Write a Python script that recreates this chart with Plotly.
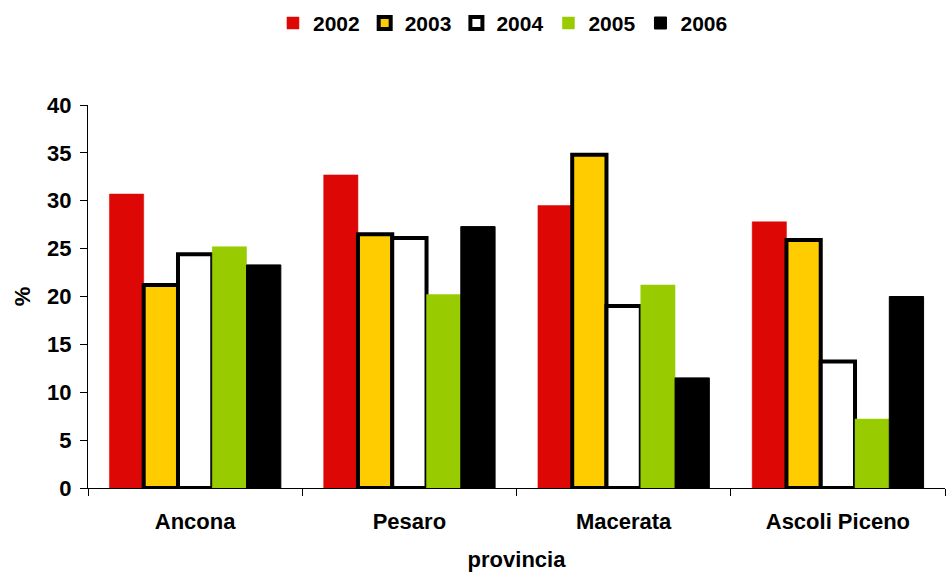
import plotly.graph_objects as go

provinces = ["Ancona", "Pesaro", "Macerata", "Ascoli Piceno"]
years = ["2002", "2003", "2004", "2005", "2006"]
v2002 = [30.7, 32.7, 29.5, 27.8]
v2003 = [21.2, 26.5, 34.8, 25.9]
v2004 = [24.4, 26.1, 19.0, 13.2]
v2005 = [25.2, 20.2, 21.2, 7.2]
v2006 = [23.3, 27.3, 11.5, 20.0]

series = [v2002, v2003, v2004, v2005, v2006]
fills = ["#DD0806", "#FFCC00", "#FFFFFF", "#99CC00", "#000000"]
lines = [("#DD0806", 0.5), ("#000000", 4), ("#000000", 4), ("#99CC00", 0.5), ("#000000", 1)]

font_family = "Liberation Sans, Arial, sans-serif"

fig = go.Figure()
for name, vals, fc, (lc, lw) in zip(years, series, fills, lines):
    fig.add_trace(go.Bar(
        x=provinces, y=vals, name=name,
        marker=dict(color=fc, line=dict(color=lc, width=lw)),
    ))

fig.update_layout(
    width=949, height=572,
    margin=dict(l=88, r=4, t=105, b=84),
    paper_bgcolor="white", plot_bgcolor="white",
    barmode="group", bargap=0.2, bargroupgap=0,
    font=dict(family=font_family, size=22, color="black"),
    legend=dict(
        orientation="h", x=0.53, xref="container", xanchor="center",
        y=0.995, yref="container", yanchor="top",
        font=dict(family=font_family, size=21, color="black", weight="bold"),
        itemwidth=30, traceorder="normal",
    ),
    xaxis=dict(
        showline=True, linecolor="black", linewidth=1,
        ticks="outside", tickson="boundaries", ticklen=7, tickcolor="black",
        ticklabelstandoff=14,
        tickfont=dict(family=font_family, size=22, color="black", weight="bold"),
        title=dict(text="<b>provincia</b>", font=dict(size=22), standoff=18),
        showgrid=False,
    ),
    yaxis=dict(
        range=[0, 40], dtick=5, showline=True, linecolor="black", linewidth=1,
        ticks="outside", ticklen=7, tickcolor="black",
        ticklabelstandoff=4,
        tickfont=dict(family=font_family, size=22, color="black", weight="bold"),
        title=dict(text="<b>%</b>", font=dict(size=22), standoff=10),
        showgrid=False, zeroline=False,
    ),
)

fig.write_html("out.html")
